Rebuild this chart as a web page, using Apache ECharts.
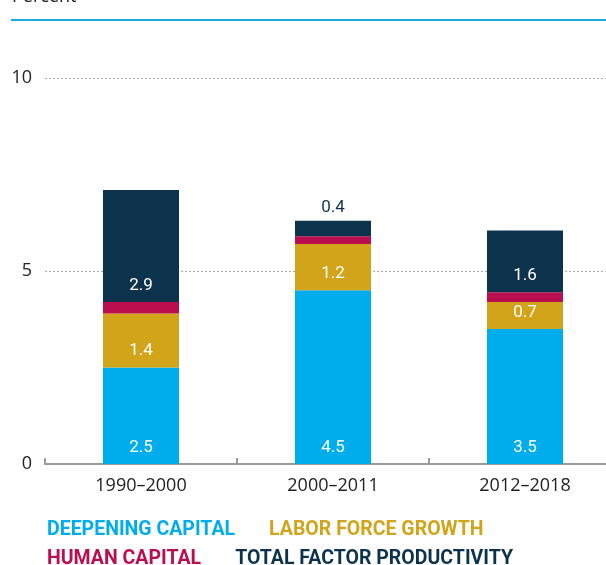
<!DOCTYPE html>
<html>
<head>
<meta charset="utf-8">
<script src="https://cdn.jsdelivr.net/npm/echarts@6/dist/echarts.min.js"></script>
<style>
html,body{margin:0;padding:0;background:#fff;}
#chart{width:606px;height:565px;}
</style>
</head>
<body>
<div id="chart"></div>
<script>
const categories = ['1990–2000', '2000–2011', '2012–2018'];
const deepeningCapital = [2.5, 4.5, 3.5];
const laborForceGrowth = [1.4, 1.2, 0.7];
const humanCapital = [0.3, 0.2, 0.25];
const totalFactorProductivity = [2.9, 0.4, 1.6];
const yTicks = [0, 5, 10];

const seriesNames = ['DEEPENING CAPITAL', 'LABOR FORCE GROWTH', 'HUMAN CAPITAL', 'TOTAL FACTOR PRODUCTIVITY'];
const colors = ['#00adec', '#d1a41a', '#bb0e4f', '#0d334c'];

const condensed = "Roboto, sans-serif";
const bodyFont = "'Open Sans', 'Noto Sans', sans-serif";

const chart = echarts.init(document.getElementById('chart'), null, {renderer: 'canvas'});

const insideLabel = {
  show: true,
  position: 'insideBottom',
  distance: 8,
  color: '#ffffff',
  fontFamily: condensed,
  fontSize: 17,
  formatter: p => p.value.toFixed(1)
};

function makeSeries(name, values, color, withLabel, dataMapper) {
  return {
    name: name,
    type: 'bar',
    stack: 'total',
    barWidth: 76,
    itemStyle: {color: color},
    label: withLabel ? insideLabel : {show: false},
    emphasis: {disabled: true},
    data: dataMapper ? values.map(dataMapper) : values
  };
}

const legendText = (name, i) => ({name: name, textStyle: {color: colors[i]}});
const legendStyle = {fontFamily: condensed, fontSize: 19.5, fontWeight: 'bold'};

chart.setOption({
  animation: false,
  color: colors,
  grid: {left: 45, width: 576, top: 78, bottom: 101, containLabel: false, outerBoundsMode: 'none'},
  graphic: [
    {type: 'text', left: 12, top: -12, style: {text: 'Percent', fontFamily: bodyFont, fontSize: 18, fill: '#222'}},
    {type: 'line', shape: {x1: 11, y1: 20, x2: 606, y2: 20}, style: {stroke: '#1fa9e3', lineWidth: 2}}
  ],
  legend: [
    {
      left: 37, top: 515, icon: 'none', itemWidth: 0, itemGap: 29, selectedMode: false,
      textStyle: legendStyle,
      data: [legendText(seriesNames[0], 0), legendText(seriesNames[1], 1)]
    },
    {
      left: 37, top: 544, icon: 'none', itemWidth: 0, itemGap: 29, selectedMode: false,
      textStyle: legendStyle,
      data: [legendText(seriesNames[2], 2), legendText(seriesNames[3], 3)]
    }
  ],
  xAxis: {
    type: 'category',
    data: categories,
    axisLine: {show: true, lineStyle: {color: '#9a9a9a', width: 2}},
    axisTick: {show: true, inside: true, length: 6, lineStyle: {color: '#9a9a9a', width: 2}},
    axisLabel: {color: '#222', fontFamily: bodyFont, fontSize: 18, margin: 13},
    splitLine: {show: false}
  },
  yAxis: {
    type: 'value',
    min: yTicks[0],
    max: yTicks[yTicks.length - 1],
    interval: yTicks[1] - yTicks[0],
    axisLine: {show: false},
    axisTick: {show: false},
    axisLabel: {color: '#222', fontFamily: bodyFont, fontSize: 18, margin: 13},
    splitLine: {show: true, lineStyle: {color: '#aaaaaa', width: 1, type: [2, 2]}}
  },
  series: [
    makeSeries(seriesNames[0], deepeningCapital, colors[0], true),
    makeSeries(seriesNames[1], laborForceGrowth, colors[1], true),
    makeSeries(seriesNames[2], humanCapital, colors[2], false),
    makeSeries(seriesNames[3], totalFactorProductivity, colors[3], true, (v, i) =>
      v < 1 ? {value: v, label: {position: 'top', distance: 5, color: colors[3]}} : v)
  ]
});
</script>
</body>
</html>
